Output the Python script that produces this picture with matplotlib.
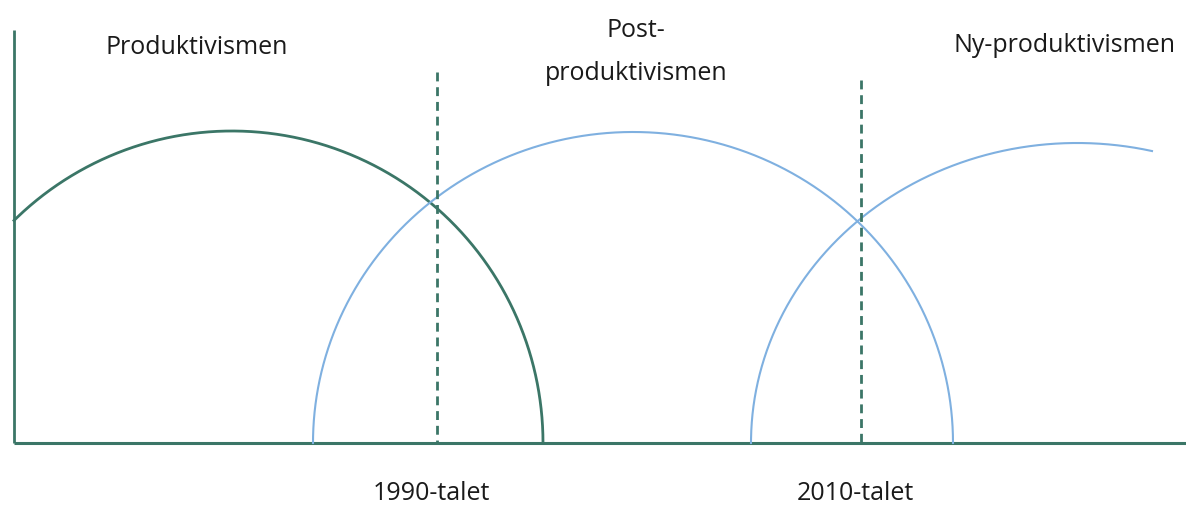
import numpy as np
import matplotlib
matplotlib.use("Agg")
import matplotlib.pyplot as plt

# ---- data (diagram units: x along time, y = intensity above baseline) ----
era_labels = ["Produktivismen", "Post-\nproduktivismen", "Ny-produktivismen"]
arc_center = [232, 633, 1077]
arc_halfwidth = [311, 320, 326]
arc_height = [312, 311, 300]
arc_xmin = [14, 313, 751]
arc_xmax = [543, 953, 1152]
arc_colors = ["#3b7667", "#7fb0e0", "#7fb0e0"]
arc_widths = [2.0, 1.5, 1.5]

boundary_labels = ["1990-talet", "2010-talet"]
boundary_x = [437, 861]
boundary_top = [371, 363]

era_label_x = [197, 636, 1064]
era_label_y = [395, 391, 398]

axis_color = "#3b7667"
font = "Open Sans"
fs = 18

fig = plt.figure(figsize=(11.86, 5.07), dpi=100)
ax = fig.add_axes([0, 0, 1, 1])
ax.set_xlim(0, 1186)
ax.set_ylim(-64, 443)
ax.axis("off")

# axes lines
ax.plot([14, 14], [0, 413], color=axis_color, lw=2.0, solid_capstyle="butt")
ax.plot([14, 1186], [0, 0], color=axis_color, lw=2.2, solid_capstyle="butt")

# arcs
for c, a, h, x0, x1, col, w in zip(arc_center, arc_halfwidth, arc_height,
                                    arc_xmin, arc_xmax, arc_colors, arc_widths):
    t0 = np.arccos(np.clip((x1 - c) / a, -1, 1))
    t1 = np.arccos(np.clip((x0 - c) / a, -1, 1))
    t = np.linspace(t0, t1, 600)
    ax.plot(c + a * np.cos(t), h * np.sin(t), color=col, lw=w)

# dashed boundaries (drawn top-down so the dash pattern starts at the top)
for bx, top, lab in zip(boundary_x, boundary_top, boundary_labels):
    ax.plot([bx, bx], [top, 0], color=axis_color, lw=2.0,
            linestyle=(0, (3.2, 2.1)))
    ax.text(bx - 6, -50, lab, ha="center", va="center", fontsize=fs,
            family=font, color="#1a1a1a")

for lx, ly, lab in zip(era_label_x, era_label_y, era_labels):
    ax.text(lx, ly, lab, ha="center", va="center", fontsize=fs,
            family=font, color="#1a1a1a", linespacing=1.9)

fig.savefig("out.png", dpi=100)
